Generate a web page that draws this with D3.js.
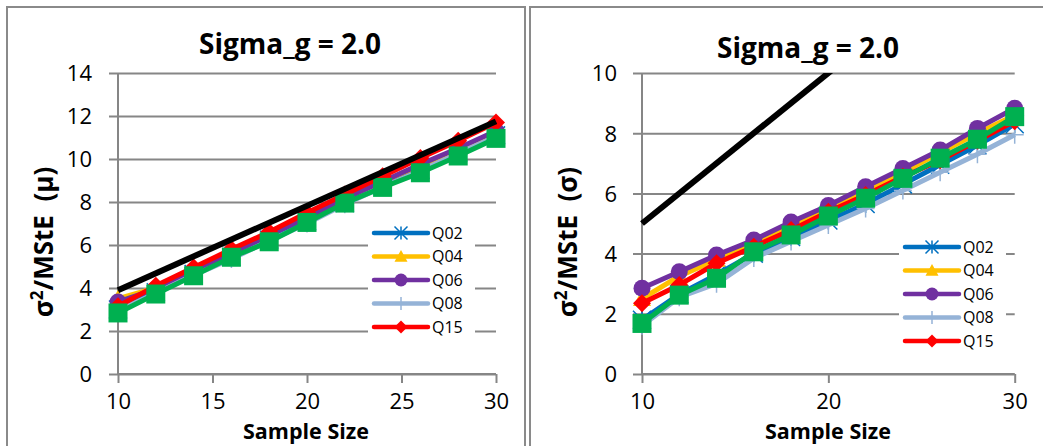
<!DOCTYPE html>
<html>
<head>
<meta charset="utf-8">
<script src="https://cdn.jsdelivr.net/npm/d3@7"></script>
<style>
  html, body { margin: 0; padding: 0; background: #fff; }
  svg { display: block; font-family: "Open Sans", sans-serif; }
</style>
</head>
<body>
<svg id="chart" width="1043" height="446"></svg>
<script>
// ---------------- DATA ----------------
const sampleSize = [10, 12, 14, 16, 18, 20, 22, 24, 26, 28, 30];
const seriesNames = ["Q02", "Q04", "Q06", "Q08", "Q15"];

// Left panel: sigma^2/MStE (mu)
const leftQ02 = [3.0, 3.8, 4.65, 5.45, 6.25, 7.1, 7.95, 8.75, 9.5, 10.3, 11.1];
const leftQ04 = [3.5, 4.0, 4.85, 5.65, 6.5, 7.35, 8.15, 8.95, 9.7, 10.45, 11.25];
const leftQ06 = [3.35, 3.95, 4.8, 5.6, 6.45, 7.3, 8.15, 8.95, 9.75, 10.5, 11.3];
const leftQ08 = [2.95, 3.75, 4.6, 5.35, 6.2, 7.0, 7.9, 8.7, 9.45, 10.25, 11.05];
const leftQ15 = [3.15, 4.1, 4.95, 5.8, 6.6, 7.5, 8.35, 9.2, 10.05, 10.85, 11.7];
const leftExtra = [2.84, 3.72, 4.57, 5.43, 6.15, 7.05, 7.95, 8.68, 9.36, 10.14, 10.96];
const leftRefX = [10, 30];
const leftRefY = [3.9, 11.75];

// Right panel: sigma^2/MStE (sigma)
const rightQ02 = [1.8, 2.65, 3.3, 4.0, 4.55, 5.1, 5.65, 6.3, 6.95, 7.6, 8.3];
const rightQ04 = [2.5, 3.25, 3.8, 4.35, 4.95, 5.5, 6.1, 6.7, 7.35, 8.0, 8.6];
const rightQ06 = [2.85, 3.4, 3.95, 4.45, 5.05, 5.6, 6.22, 6.83, 7.44, 8.16, 8.83];
const rightQ08 = [1.6, 2.55, 3.0, 3.85, 4.4, 4.95, 5.5, 6.1, 6.7, 7.3, 7.95];
const rightQ15 = [2.35, 2.96, 3.68, 4.23, 4.78, 5.39, 5.95, 6.55, 7.1, 7.75, 8.4];
const rightExtra = [1.68, 2.62, 3.18, 4.06, 4.62, 5.25, 5.84, 6.5, 7.17, 7.8, 8.55];
const rightRefX = [10, 30];
const rightRefY = [5, 15];

const leftXTicks = [10, 15, 20, 25, 30];
const leftYTicks = [0, 2, 4, 6, 8, 10, 12, 14];
const rightXTicks = [10, 20, 30];
const rightYTicks = [0, 2, 4, 6, 8, 10];

const titleText = "Sigma_g = 2.0";
const xTitle = "Sample Size";

// ---------------- STYLE ----------------
const colors = { Q02: "#0070C0", Q04: "#FFC000", Q06: "#7030A0", Q08: "#95B3D7", Q15: "#FF0000", extra: "#00B050", ref: "#000000" };
const markerType = { Q02: "star", Q04: "triangle", Q06: "circle", Q08: "plus", Q15: "diamond", extra: "square" };
const gridColor = "#868686";

const svg = d3.select("#chart");

// panel borders
svg.append("rect").attr("x", 7).attr("y", 7).attr("width", 518).attr("height", 460)
  .attr("fill", "none").attr("stroke", "#8a8a8a").attr("stroke-width", 2);
svg.append("rect").attr("x", 530).attr("y", 7).attr("width", 530).attr("height", 460)
  .attr("fill", "none").attr("stroke", "#8a8a8a").attr("stroke-width", 2);

function drawMarker(g, type, cx, cy, color, s) {
  if (type === "square") {
    g.append("rect").attr("x", cx - s / 2).attr("y", cy - s / 2).attr("width", s).attr("height", s).attr("fill", color);
  } else if (type === "circle") {
    g.append("circle").attr("cx", cx).attr("cy", cy).attr("r", s / 2).attr("fill", color);
  } else if (type === "diamond") {
    const h = s / 2;
    g.append("path").attr("d", `M${cx},${cy - h}L${cx + h},${cy}L${cx},${cy + h}L${cx - h},${cy}Z`).attr("fill", color);
  } else if (type === "triangle") {
    const h = s / 2;
    g.append("path").attr("d", `M${cx},${cy - h}L${cx + h},${cy + h * 0.8}L${cx - h},${cy + h * 0.8}Z`).attr("fill", color);
  } else if (type === "plus") {
    const h = s / 2;
    g.append("path").attr("d", `M${cx - h},${cy}L${cx + h},${cy}M${cx},${cy - h}L${cx},${cy + h}`)
      .attr("stroke", color).attr("stroke-width", 1.5).attr("fill", "none");
  } else if (type === "star") {
    const h = s / 2;
    g.append("path").attr("d", `M${cx - h},${cy - h}L${cx + h},${cy + h}M${cx - h},${cy + h}L${cx + h},${cy - h}M${cx},${cy - h}L${cx},${cy + h}`)
      .attr("stroke", color).attr("stroke-width", 1.5).attr("fill", "none");
  }
}

function drawPanel(cfg) {
  const x = d3.scaleLinear().domain([10, 30]).range([cfg.x0, cfg.x1]);
  const y = d3.scaleLinear().domain([0, cfg.yMax]).range([374, 73]);
  const g = svg.append("g");

  // gridlines + y ticks
  const yAxis = d3.axisLeft(y).tickValues(cfg.yTicks).tickSize(-(cfg.x1 - cfg.x0)).tickPadding(0).tickFormat(d3.format("d"));
  const ya = g.append("g").attr("transform", `translate(${cfg.x0},0)`).call(yAxis);
  ya.select(".domain").remove();
  ya.selectAll(".tick line").attr("stroke", gridColor).attr("stroke-width", 2).attr("x1", -9);
  ya.selectAll(".tick text").attr("x", cfg.yLabelRight - cfg.x0).attr("fill", "#000")
    .attr("font-size", 22).attr("font-family", "Open Sans").attr("dy", "0.36em");

  // x axis
  const xAxis = d3.axisBottom(x).tickValues(cfg.xTicks).tickSize(9).tickPadding(0).tickFormat(d3.format("d"));
  const xa = g.append("g").attr("transform", `translate(0,374)`).call(xAxis);
  xa.select(".domain").attr("stroke", gridColor).attr("stroke-width", 2).attr("d", `M${cfg.x0},0H${cfg.x1}`);
  xa.selectAll(".tick line").attr("stroke", gridColor).attr("stroke-width", 2);
  xa.selectAll(".tick text").attr("fill", "#000").attr("font-size", 22).attr("font-family", "Open Sans")
    .attr("y", 35).attr("dy", 0);

  // vertical axis line
  g.append("line").attr("x1", cfg.x0).attr("x2", cfg.x0).attr("y1", 73).attr("y2", 374)
    .attr("stroke", gridColor).attr("stroke-width", 2);

  // legend background (blocks gridlines)
  g.append("rect").attr("x", cfg.legX - 6).attr("y", cfg.legY - 11).attr("width", 107).attr("height", 23.5 * 4 + 22)
    .attr("fill", "#fff");

  // clip
  const clipId = "clip" + cfg.id;
  svg.append("clipPath").attr("id", clipId).append("rect")
    .attr("x", cfg.x0 - 30).attr("y", 73).attr("width", cfg.x1 - cfg.x0 + 60).attr("height", 330);

  const plot = g.append("g").attr("clip-path", `url(#${clipId})`);
  const line = d3.line().x((d, i) => x(sampleSize[i])).y(d => y(d));

  const all = cfg.series.concat([{ key: "extra", vals: cfg.extra }]);
  all.forEach(s => {
    plot.append("path").attr("d", line(s.vals)).attr("fill", "none")
      .attr("stroke", colors[s.key]).attr("stroke-width", 5).attr("stroke-linejoin", "round");
    s.vals.forEach((v, i) => drawMarker(plot, markerType[s.key], x(sampleSize[i]), y(v), colors[s.key],
      s.key === "extra" ? 19 : (s.key === "Q06" ? 17 : 18)));
  });
  // reference black line
  const refLine = d3.line().x(d => x(d[0])).y(d => y(d[1]));
  plot.append("path").attr("d", refLine(cfg.refX.map((v, i) => [v, cfg.refY[i]])))
    .attr("fill", "none").attr("stroke", colors.ref).attr("stroke-width", 6);

  // legend
  cfg.series.forEach((s, i) => {
    const ly = cfg.legY + i * 23.5;
    g.append("line").attr("x1", cfg.legX).attr("x2", cfg.legX + 54).attr("y1", ly).attr("y2", ly)
      .attr("stroke", colors[s.key]).attr("stroke-width", 4.5).attr("stroke-linecap", "round");
    drawMarker(g, markerType[s.key], cfg.legX + 27, ly, colors[s.key], 13);
    g.append("text").attr("x", cfg.legX + 58).attr("y", ly).attr("dy", "0.36em")
      .attr("font-size", 16).attr("fill", "#000").text(s.key);
  });

  // title
  g.append("text").attr("x", cfg.titleX).attr("y", cfg.titleY).attr("text-anchor", "middle")
    .attr("font-size", 28).attr("font-weight", "bold").attr("fill", "#000").text(titleText);

  // x title
  g.append("text").attr("x", cfg.xTitleX).attr("y", 439).attr("text-anchor", "middle")
    .attr("font-size", 21.5).attr("font-weight", "bold").attr("fill", "#000").text(xTitle);

  // y title
  const yt = g.append("text").attr("transform", `translate(${cfg.yTitleX},242) rotate(-90)`)
    .attr("text-anchor", "middle").attr("font-size", 26).attr("font-weight", "bold").attr("fill", "#000");
  yt.append("tspan").text("σ");
  yt.append("tspan").attr("font-size", 17).attr("dy", -10).text("2");
  yt.append("tspan").attr("dy", 10).text("/MStE\u00a0\u00a0(" + cfg.yUnit + ")");
}

drawPanel({
  id: "L", x0: 118, x1: 496, yMax: 14, yTicks: leftYTicks, xTicks: leftXTicks, yLabelRight: 92,
  series: [
    { key: "Q02", vals: leftQ02 }, { key: "Q04", vals: leftQ04 }, { key: "Q06", vals: leftQ06 },
    { key: "Q08", vals: leftQ08 }, { key: "Q15", vals: leftQ15 }
  ],
  extra: leftExtra, refX: leftRefX, refY: leftRefY,
  legX: 374, legY: 233, titleX: 290, titleY: 54, xTitleX: 306, yTitleX: 53, yUnit: "μ"
});

drawPanel({
  id: "R", x0: 642, x1: 1014.7, yMax: 10, yTicks: rightYTicks, xTicks: rightXTicks, yLabelRight: 617,
  series: [
    { key: "Q02", vals: rightQ02 }, { key: "Q04", vals: rightQ04 }, { key: "Q06", vals: rightQ06 },
    { key: "Q08", vals: rightQ08 }, { key: "Q15", vals: rightQ15 }
  ],
  extra: rightExtra, refX: rightRefX, refY: rightRefY,
  legX: 905, legY: 247, titleX: 808, titleY: 58, xTitleX: 828, yTitleX: 577, yUnit: "σ"
});
</script>
</body>
</html>
